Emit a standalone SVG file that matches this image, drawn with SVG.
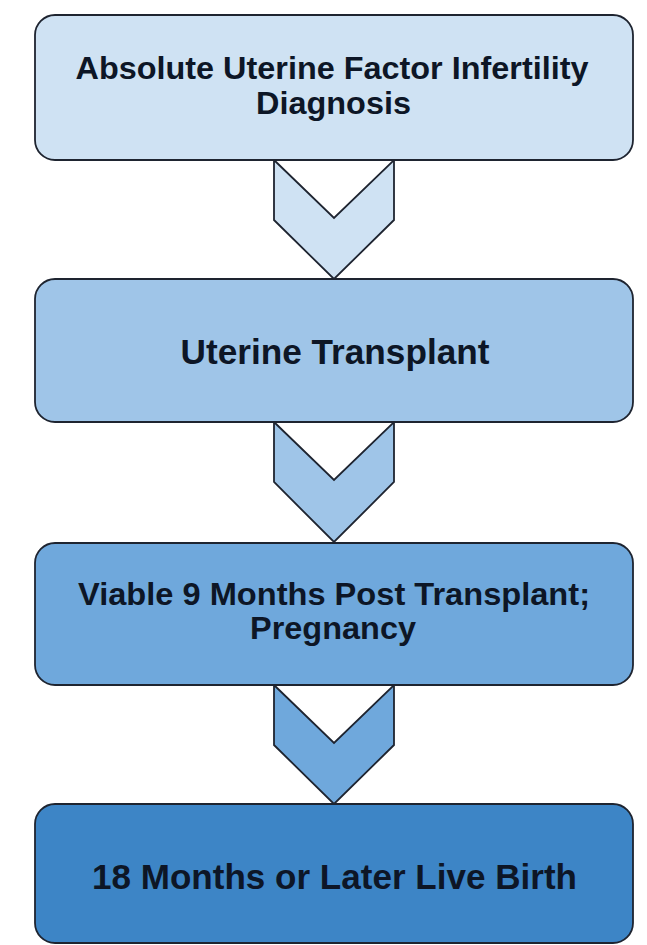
<svg xmlns="http://www.w3.org/2000/svg" width="647" height="945" viewBox="0 0 647 945">
<style>
.box{stroke:#1e2430;stroke-width:1.8}
.chev{stroke:#1e2430;stroke-width:1.8;stroke-linejoin:miter}
.t{font-family:"Liberation Sans",Arial,sans-serif;font-weight:bold;fill:#0d1626;text-anchor:middle}
.c1{fill:#cfe2f3}.c2{fill:#9fc5e8}.c3{fill:#6fa8dc}.c4{fill:#3d85c6}
</style>
<rect width="647" height="945" fill="#ffffff"/>
<g id="connectors">
<polygon class="chev c1" points="274,160 334,218 394,160 394,220 334,279 274,220"/>
<polygon class="chev c2" points="274,422 334,480 394,422 394,482 334,542 274,482"/>
<polygon class="chev c3" points="274,685 334,743 394,685 394,745 334,804 274,745"/>
</g>
<g id="node1">
<rect class="box c1" x="35" y="15" width="598" height="145" rx="20"/>
<text class="t" x="332" y="79" font-size="31.5" textLength="513" lengthAdjust="spacingAndGlyphs">Absolute Uterine Factor Infertility</text>
<text class="t" x="333.5" y="114" font-size="31.5" textLength="155" lengthAdjust="spacingAndGlyphs">Diagnosis</text>
</g>
<g id="node2">
<rect class="box c2" x="35" y="279" width="598" height="143" rx="20"/>
<text class="t" x="335" y="364" font-size="35.5" textLength="309" lengthAdjust="spacingAndGlyphs">Uterine Transplant</text>
</g>
<g id="node3">
<rect class="box c3" x="35" y="543" width="598" height="142" rx="20"/>
<text class="t" x="334" y="605" font-size="31.5" textLength="512" lengthAdjust="spacingAndGlyphs">Viable 9 Months Post Transplant;</text>
<text class="t" x="333" y="639" font-size="31.5" textLength="166" lengthAdjust="spacingAndGlyphs">Pregnancy</text>
</g>
<g id="node4">
<rect class="box c4" x="35" y="804" width="598" height="139" rx="20"/>
<text class="t" x="334.5" y="889" font-size="34.5" textLength="485" lengthAdjust="spacingAndGlyphs">18 Months or Later Live Birth</text>
</g>
</svg>
